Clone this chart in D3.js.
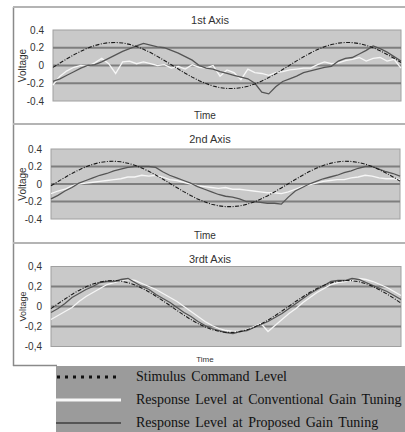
<!DOCTYPE html>
<html>
<head>
<meta charset="utf-8">
<script src="https://cdn.jsdelivr.net/npm/d3@7"></script>
<style>
  body { margin: 0; background: #fff; }
  svg { display: block; }
</style>
</head>
<body>
<div id="chart"></div>
<script>
// values, one sample every 2 time units (51 samples)
const stimulus = [-0.021, 0.028, 0.075, 0.121, 0.161, 0.197, 0.225, 0.245, 0.257, 0.260,
  0.254, 0.238, 0.215, 0.183, 0.146, 0.103, 0.057, 0.009, -0.040, -0.087,
  -0.131, -0.171, -0.204, -0.231, -0.249, -0.259, -0.259, -0.251, -0.233, -0.208,
  -0.175, -0.136, -0.092, -0.045, 0.003, 0.052, 0.098, 0.142, 0.180, 0.212,
  0.236, 0.252, 0.260, 0.258, 0.247, 0.228, 0.200, 0.165, 0.125, 0.081, 0.033];

const axis1Conventional = [-0.22, -0.12, -0.06, -0.02, 0.0, -0.01, 0.03, 0.08, 0.02, -0.09,
  0.04, 0.05, 0.02, 0.04, 0.02, 0.0, 0.01, -0.03, -0.01, -0.04,
  0.01, -0.02, -0.03, 0.0, -0.12, -0.05, -0.08, -0.16, -0.04, -0.08,
  -0.09, -0.11, -0.08, -0.07, -0.05, -0.04, -0.03, -0.03, 0.01, 0.04,
  0.02, 0.03, 0.055, 0.07, 0.09, 0.05, 0.08, 0.09, 0.05, 0.07, -0.03];
const axis1Proposed = [-0.18, -0.15, -0.11, -0.07, -0.03, 0.0, 0.01, 0.04, 0.08, 0.12,
  0.16, 0.19, 0.22, 0.25, 0.23, 0.21, 0.20, 0.17, 0.14, 0.10,
  0.06, 0.0, -0.03, -0.04, -0.07, -0.09, -0.11, -0.13, -0.15, -0.20,
  -0.30, -0.32, -0.24, -0.18, -0.15, -0.12, -0.08, -0.06, -0.04, -0.02,
  -0.01, 0.05, 0.08, 0.09, 0.13, 0.17, 0.22, 0.19, 0.15, 0.10, 0.05];

const axis2Conventional = [-0.11, -0.08, -0.06, -0.02, 0.0, 0.01, 0.02, 0.03, 0.04, 0.05,
  0.06, 0.08, 0.08, 0.10, 0.09, 0.10, 0.08, 0.05, 0.04, 0.02,
  0.0, -0.02, -0.03, -0.04, -0.05, -0.04, -0.06, -0.06, -0.07, -0.08,
  -0.09, -0.10, -0.10, -0.11, -0.09, -0.06, -0.03, -0.01, 0.01, 0.03,
  0.04, 0.05, 0.05, 0.07, 0.08, 0.10, 0.09, 0.07, 0.06, 0.06, 0.05];
const axis2Proposed = [-0.17, -0.13, -0.08, -0.04, 0.01, 0.04, 0.07, 0.10, 0.12, 0.15,
  0.17, 0.19, 0.20, 0.20, 0.20, 0.19, 0.14, 0.10, 0.07, 0.04,
  0.01, -0.03, -0.06, -0.09, -0.12, -0.14, -0.15, -0.17, -0.20, -0.20,
  -0.21, -0.22, -0.22, -0.23, -0.15, -0.08, -0.04, 0.0, 0.03, 0.06,
  0.08, 0.10, 0.13, 0.15, 0.18, 0.20, 0.20, 0.17, 0.14, 0.12, 0.09];

const axis3Conventional = [-0.13, -0.09, -0.05, -0.01, 0.05, 0.10, 0.14, 0.18, 0.22, 0.24,
  0.26, 0.27, 0.26, 0.23, 0.20, 0.17, 0.13, 0.09, 0.05, 0.0,
  -0.05, -0.10, -0.15, -0.19, -0.22, -0.24, -0.25, -0.25, -0.23, -0.20,
  -0.17, -0.25, -0.19, -0.13, -0.07, -0.02, 0.04, 0.09, 0.14, 0.18,
  0.22, 0.24, 0.25, 0.26, 0.28, 0.27, 0.25, 0.22, 0.19, 0.15, 0.11];
const axis3Proposed = [-0.06, -0.02, 0.03, 0.09, 0.13, 0.17, 0.20, 0.24, 0.25, 0.25,
  0.27, 0.28, 0.24, 0.20, 0.17, 0.12, 0.08, 0.04, -0.01, -0.06,
  -0.10, -0.15, -0.19, -0.22, -0.24, -0.26, -0.27, -0.25, -0.24, -0.21,
  -0.18, -0.15, -0.11, -0.07, -0.02, 0.03, 0.08, 0.13, 0.17, 0.21,
  0.25, 0.26, 0.26, 0.28, 0.27, 0.24, 0.21, 0.18, 0.15, 0.11, 0.07];

const yTicks = [-0.4, -0.2, 0, 0.2, 0.4];
const gridValues = [-0.2, 0, 0.2];
const panelTitles = ["1st Axis", "2nd Axis", "3rdt Axis"];
const legendLabels = ["Stimulus Command Level",
  "Response Level at Conventional Gain Tuning",
  "Response Level at Proposed Gain Tuning"];

// layout of the three panels (pixels)
const panels = [
  {title: panelTitles[0], conv: axis1Conventional, prop: axis1Proposed,
   x0: 53, x1: 401, y0: 30, y1: 101, titleY: 24, timeY: 119, timeSize: 10, voltSize: 10, sep: "."},
  {title: panelTitles[1], conv: axis2Conventional, prop: axis2Proposed,
   x0: 51, x1: 400, y0: 149, y1: 219, titleY: 143, timeY: 239, timeSize: 10, voltSize: 10, sep: "."},
  {title: panelTitles[2], conv: axis3Conventional, prop: axis3Proposed,
   x0: 51, x1: 401, y0: 266.5, y1: 346.5, titleY: 263, timeY: 362, timeSize: 8, voltSize: 9, sep: ","}
];

const W = 405, H = 432;
const svg = d3.select("#chart").append("svg")
  .attr("width", W)
  .attr("height", H);

svg.append("rect").attr("width", W).attr("height", H).attr("fill", "#fff");

// outer frame and panel separators
svg.append("line").attr("x1", 13.5).attr("x2", 13.5).attr("y1", 7).attr("y2", 366)
  .attr("stroke", "#8a8a8a").attr("stroke-width", 1.5);
[7, 124, 243].forEach(y => {
  svg.append("line").attr("x1", 13).attr("x2", W).attr("y1", y).attr("y2", y)
    .attr("stroke", "#b4b4b4").attr("stroke-width", 2);
});
svg.append("line").attr("x1", 13).attr("x2", 57).attr("y1", 365.5).attr("y2", 365.5)
  .attr("stroke", "#8a8a8a").attr("stroke-width", 1.5);

const fmt = d3.format(".1f");

panels.forEach(p => {
  const x = d3.scaleLinear().domain([0, stimulus.length - 1]).range([p.x0, p.x1]);
  const y = d3.scaleLinear().domain([-0.4, 0.4]).range([p.y1, p.y0]);
  const g = svg.append("g");

  g.append("rect")
    .attr("x", p.x0).attr("y", p.y0)
    .attr("width", p.x1 - p.x0).attr("height", p.y1 - p.y0)
    .attr("fill", "#c9c9c9").attr("stroke", "#a0a0a0").attr("stroke-width", 1);

  g.selectAll(".grid").data(gridValues).enter().append("line")
    .attr("x1", p.x0).attr("x2", p.x1)
    .attr("y1", d => y(d)).attr("y2", d => y(d))
    .attr("stroke", "#7e7e7e").attr("stroke-width", 2);

  const yAxis = d3.axisLeft(y).tickValues(yTicks).tickSize(0).tickPadding(9)
    .tickFormat(d => d === 0 ? "0" : fmt(d).replace("−", "-").replace(".", p.sep));
  g.append("g")
    .attr("transform", "translate(" + p.x0 + ",0)")
    .call(yAxis)
    .call(a => a.select(".domain").remove())
    .selectAll("text")
    .attr("font-family", "'Liberation Sans', Arial, sans-serif")
    .attr("font-size", 10)
    .attr("fill", "#333");

  const line = d3.line().x((d, i) => x(i)).y(d => y(d));

  g.append("path").datum(p.conv).attr("d", line)
    .attr("fill", "none").attr("stroke", "#f6f6f6").attr("stroke-width", 1.3);
  g.append("path").datum(p.prop).attr("d", line)
    .attr("fill", "none").attr("stroke", "#555").attr("stroke-width", 1.3);
  g.append("path").datum(stimulus).attr("d", line)
    .attr("fill", "none").attr("stroke", "#1a1a1a").attr("stroke-width", 1.1)
    .attr("stroke-dasharray", "4,1.5,1,1.5");

  // titles
  g.append("text").attr("x", 210).attr("y", p.titleY)
    .attr("text-anchor", "middle")
    .attr("font-family", "'Liberation Sans', Arial, sans-serif")
    .attr("font-size", 11).attr("fill", "#333")
    .text(p.title);
  g.append("text").attr("x", 205).attr("y", p.timeY)
    .attr("text-anchor", "middle")
    .attr("font-family", "'Liberation Sans', Arial, sans-serif")
    .attr("font-size", p.timeSize).attr("fill", "#333")
    .text("Time");
  g.append("text")
    .attr("transform", "translate(" + 26 + "," + ((p.y0 + p.y1) / 2) + ") rotate(-90)")
    .attr("text-anchor", "middle")
    .attr("font-family", "'Liberation Sans', Arial, sans-serif")
    .attr("font-size", p.voltSize).attr("fill", "#333")
    .text("Voltage");
});

// legend
const legend = svg.append("g");
legend.append("rect").attr("x", 56).attr("y", 366).attr("width", W - 56).attr("height", H - 366)
  .attr("fill", "#9b9b9b");
const rowY = [377, 400, 423];
legend.append("line").attr("x1", 57).attr("x2", 121).attr("y1", rowY[0]).attr("y2", rowY[0])
  .attr("stroke", "#111").attr("stroke-width", 3).attr("stroke-dasharray", "3,5");
legend.append("line").attr("x1", 56).attr("x2", 121).attr("y1", rowY[1]).attr("y2", rowY[1])
  .attr("stroke", "#f8f8f8").attr("stroke-width", 3);
legend.append("line").attr("x1", 56).attr("x2", 121).attr("y1", rowY[2]).attr("y2", rowY[2])
  .attr("stroke", "#555").attr("stroke-width", 2);
legend.selectAll(".lab").data(legendLabels).enter().append("text")
  .attr("x", 136).attr("y", (d, i) => rowY[i] + 4)
  .attr("font-family", "'Liberation Serif', 'Times New Roman', serif")
  .attr("font-size", 14).attr("fill", "#111")
  .attr("word-spacing", 2)
  .text(d => d);
</script>
</body>
</html>
